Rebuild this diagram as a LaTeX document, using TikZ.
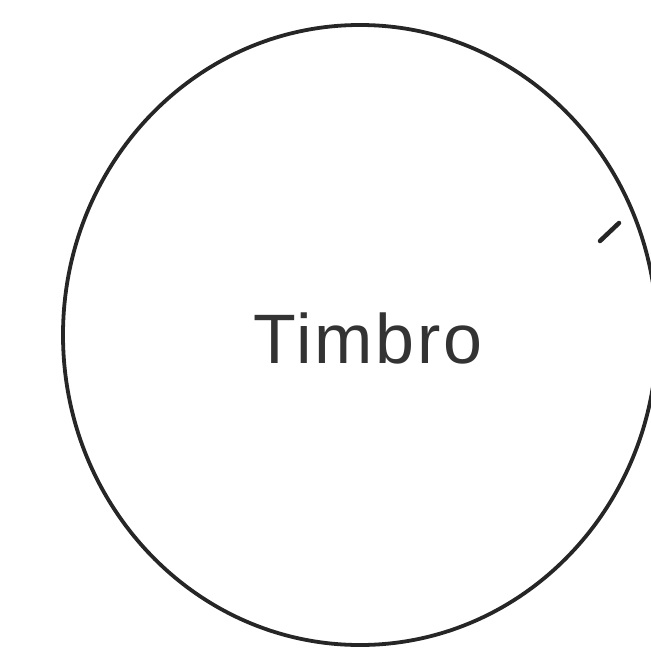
\documentclass[tikz,border=0pt]{standalone}
\usepackage{fontspec}
\setmainfont{Liberation Sans}
\newfontfamily\widefont[LetterSpace=4]{Liberation Sans}
\begin{document}
\begin{tikzpicture}[x=1pt,y=-1pt,
  outline/.style={draw=black!85,line width=3.8pt},
  label/.style={font=\widefont\fontsize{70}{80}\selectfont,text=black!80,inner sep=0pt,anchor=base}]
\useasboundingbox (0,0) rectangle (650,658);
\draw[outline] (360,335) ellipse [x radius=297,y radius=310];
\node[label] (t) at (368,363) {Timbro};
\coordinate (a) at (600,241);
\coordinate (b) at (619,223);
\draw[outline,line cap=round,line width=4.5pt] (a) -- (b);
\end{tikzpicture}
\end{document}
